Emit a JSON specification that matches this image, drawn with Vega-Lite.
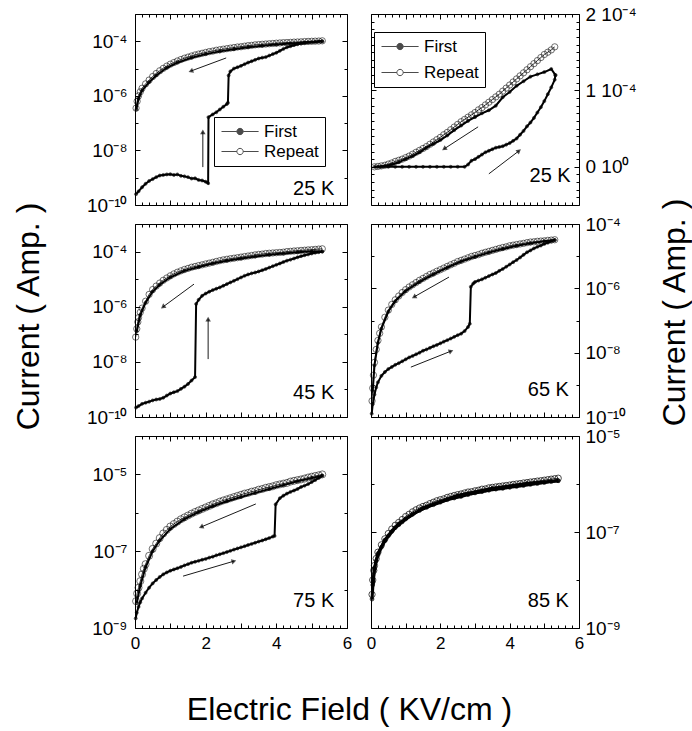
{
  "$schema": "https://vega.github.io/schema/vega-lite/v6.json",
  "background": "white",
  "padding": {"left": 11, "top": 4, "right": 4, "bottom": 4},
  "config": {
    "view": {"stroke": "black", "strokeWidth": 1},
    "font": "Liberation Sans",
    "axis": {"domain": false, "grid": false, "tickColor": "black", "tickWidth": 1, "labelColor": "black", "labelFont": "Liberation Sans", "labelFontSize": 19, "labelFlush": false, "labelOverlap": false, "titleFont": "Liberation Sans", "titleFontWeight": "normal", "titleColor": "black", "titleFontSize": 32},
    "legend": {"labelFont": "Liberation Sans", "labelFontSize": 17, "labelColor": "black"}
  },
  "datasets": {
    "tl": [
      {"s":"Repeat","E":0.03,"I":3.55e-7},{"s":"Repeat","E":0.06,"I":6.3e-7},{"s":"Repeat","E":0.1,"I":1.0e-6},{"s":"Repeat","E":0.15,"I":1.41e-6},{"s":"Repeat","E":0.2,"I":1.9e-6},{"s":"Repeat","E":0.3,"I":2.75e-6},{"s":"Repeat","E":0.4,"I":3.8e-6},{"s":"Repeat","E":0.5,"I":5.1e-6},{"s":"Repeat","E":0.6,"I":6.6e-6},{"s":"Repeat","E":0.7,"I":8.3e-6},{"s":"Repeat","E":0.8,"I":1.02e-5},{"s":"Repeat","E":0.9,"I":1.23e-5},{"s":"Repeat","E":1.0,"I":1.45e-5},{"s":"Repeat","E":1.1,"I":1.66e-5},{"s":"Repeat","E":1.2,"I":1.9e-5},{"s":"Repeat","E":1.3,"I":2.14e-5},{"s":"Repeat","E":1.4,"I":2.4e-5},{"s":"Repeat","E":1.5,"I":2.63e-5},{"s":"Repeat","E":1.6,"I":2.88e-5},{"s":"Repeat","E":1.7,"I":3.16e-5},{"s":"Repeat","E":1.8,"I":3.39e-5},{"s":"Repeat","E":1.9,"I":3.63e-5},{"s":"Repeat","E":2.0,"I":3.89e-5},{"s":"Repeat","E":2.1,"I":4.17e-5},{"s":"Repeat","E":2.2,"I":4.37e-5},{"s":"Repeat","E":2.3,"I":4.68e-5},{"s":"Repeat","E":2.4,"I":4.9e-5},{"s":"Repeat","E":2.5,"I":5.13e-5},{"s":"Repeat","E":2.6,"I":5.37e-5},{"s":"Repeat","E":2.7,"I":5.62e-5},{"s":"Repeat","E":2.8,"I":5.89e-5},{"s":"Repeat","E":2.9,"I":6.17e-5},{"s":"Repeat","E":3.0,"I":6.31e-5},{"s":"Repeat","E":3.1,"I":6.61e-5},{"s":"Repeat","E":3.2,"I":6.92e-5},{"s":"Repeat","E":3.3,"I":7.08e-5},{"s":"Repeat","E":3.4,"I":7.41e-5},{"s":"Repeat","E":3.5,"I":7.59e-5},{"s":"Repeat","E":3.6,"I":7.76e-5},{"s":"Repeat","E":3.7,"I":7.94e-5},{"s":"Repeat","E":3.8,"I":8.13e-5},{"s":"Repeat","E":3.9,"I":8.32e-5},{"s":"Repeat","E":4.0,"I":8.51e-5},{"s":"Repeat","E":4.1,"I":8.71e-5},{"s":"Repeat","E":4.2,"I":8.91e-5},{"s":"Repeat","E":4.3,"I":9.0e-5},{"s":"Repeat","E":4.4,"I":9.12e-5},{"s":"Repeat","E":4.5,"I":9.33e-5},{"s":"Repeat","E":4.6,"I":9.44e-5},{"s":"Repeat","E":4.7,"I":9.55e-5},{"s":"Repeat","E":4.8,"I":9.77e-5},{"s":"Repeat","E":4.9,"I":9.89e-5},{"s":"Repeat","E":5.0,"I":1.0e-4},{"s":"Repeat","E":5.1,"I":1.01e-4},{"s":"Repeat","E":5.2,"I":1.02e-4},{"s":"Repeat","E":5.3,"I":1.04e-4},
      {"s":"First","g":"up","E":0.03,"I":2.5e-10},{"s":"First","g":"up","E":0.1,"I":3.16e-10},{"s":"First","g":"up","E":0.2,"I":4.47e-10},{"s":"First","g":"up","E":0.3,"I":6.0e-10},{"s":"First","g":"up","E":0.4,"I":7.6e-10},{"s":"First","g":"up","E":0.5,"I":8.9e-10},{"s":"First","g":"up","E":0.6,"I":1.05e-9},{"s":"First","g":"up","E":0.7,"I":1.2e-9},{"s":"First","g":"up","E":0.8,"I":1.26e-9},{"s":"First","g":"up","E":0.9,"I":1.32e-9},{"s":"First","g":"up","E":1.0,"I":1.35e-9},{"s":"First","g":"up","E":1.1,"I":1.26e-9},{"s":"First","g":"up","E":1.2,"I":1.32e-9},{"s":"First","g":"up","E":1.3,"I":1.17e-9},{"s":"First","g":"up","E":1.4,"I":1.12e-9},{"s":"First","g":"up","E":1.5,"I":1.05e-9},{"s":"First","g":"up","E":1.6,"I":9.3e-10},{"s":"First","g":"up","E":1.7,"I":9.5e-10},{"s":"First","g":"up","E":1.8,"I":8.3e-10},{"s":"First","g":"up","E":1.9,"I":7.9e-10},{"s":"First","g":"up","E":2.0,"I":7.1e-10},{"s":"First","g":"up","E":2.07,"I":6.3e-10},{"s":"First","g":"up","E":2.08,"I":1.66e-7},{"s":"First","g":"up","E":2.2,"I":2.09e-7},{"s":"First","g":"up","E":2.3,"I":2.5e-7},{"s":"First","g":"up","E":2.4,"I":3.16e-7},{"s":"First","g":"up","E":2.5,"I":4.0e-7},{"s":"First","g":"up","E":2.6,"I":5.0e-7},{"s":"First","g":"up","E":2.63,"I":5.6e-7},{"s":"First","g":"up","E":2.65,"I":5.6e-6},{"s":"First","g":"up","E":2.7,"I":7.9e-6},{"s":"First","g":"up","E":2.8,"I":1.0e-5},{"s":"First","g":"up","E":2.9,"I":1.12e-5},{"s":"First","g":"up","E":3.0,"I":1.26e-5},{"s":"First","g":"up","E":3.1,"I":1.45e-5},{"s":"First","g":"up","E":3.2,"I":1.66e-5},{"s":"First","g":"up","E":3.3,"I":1.86e-5},{"s":"First","g":"up","E":3.4,"I":2.09e-5},{"s":"First","g":"up","E":3.5,"I":2.34e-5},{"s":"First","g":"up","E":3.6,"I":2.51e-5},{"s":"First","g":"up","E":3.7,"I":2.63e-5},{"s":"First","g":"up","E":3.8,"I":3.0e-5},{"s":"First","g":"up","E":3.9,"I":3.39e-5},{"s":"First","g":"up","E":4.0,"I":3.8e-5},{"s":"First","g":"up","E":4.1,"I":4.47e-5},{"s":"First","g":"up","E":4.2,"I":5.25e-5},{"s":"First","g":"up","E":4.3,"I":6.0e-5},{"s":"First","g":"up","E":4.4,"I":6.6e-5},{"s":"First","g":"up","E":4.5,"I":7.2e-5},{"s":"First","g":"up","E":4.6,"I":7.8e-5},{"s":"First","g":"up","E":4.7,"I":8.3e-5},{"s":"First","g":"up","E":4.8,"I":8.7e-5},{"s":"First","g":"up","E":4.9,"I":9.1e-5},{"s":"First","g":"up","E":5.0,"I":9.3e-5},{"s":"First","g":"up","E":5.1,"I":9.5e-5},{"s":"First","g":"up","E":5.2,"I":9.8e-5},{"s":"First","g":"up","E":5.3,"I":1.0e-4},
      {"s":"First","g":"down","E":5.3,"I":1.0e-4},{"s":"First","g":"down","E":4.8,"I":9.1e-5},{"s":"First","g":"down","E":4.4,"I":8.3e-5},{"s":"First","g":"down","E":4.0,"I":7.6e-5},{"s":"First","g":"down","E":3.6,"I":6.8e-5},{"s":"First","g":"down","E":3.2,"I":6.0e-5},{"s":"First","g":"down","E":2.8,"I":5.1e-5},{"s":"First","g":"down","E":2.4,"I":4.27e-5},{"s":"First","g":"down","E":2.0,"I":3.39e-5},{"s":"First","g":"down","E":1.6,"I":2.5e-5},{"s":"First","g":"down","E":1.2,"I":1.66e-5},{"s":"First","g":"down","E":0.9,"I":1.07e-5},{"s":"First","g":"down","E":0.6,"I":5.6e-6},{"s":"First","g":"down","E":0.4,"I":3.16e-6},{"s":"First","g":"down","E":0.2,"I":1.58e-6},{"s":"First","g":"down","E":0.1,"I":7.9e-7},{"s":"First","g":"down","E":0.04,"I":3.16e-7},
      {"s":"arrow","dir":"down","E":2.58,"I":2.45e-5,"E2":1.58,"I2":8.1e-6},
      {"s":"arrow","dir":"up","E":1.92,"I":2.45e-9,"E2":1.92,"I2":4.8e-8},
      {"s":"label","t":"25 K","E":5.64,"I":2.3e-10}
    ],
    "tr": [
      {"s":"Repeat","E":0.1,"I":0},{"s":"Repeat","E":0.2,"I":5e-7},{"s":"Repeat","E":0.3,"I":1.2e-6},{"s":"Repeat","E":0.4,"I":2.0e-6},{"s":"Repeat","E":0.5,"I":3.5e-6},{"s":"Repeat","E":0.6,"I":5.0e-6},{"s":"Repeat","E":0.7,"I":7.0e-6},{"s":"Repeat","E":0.8,"I":8.5e-6},{"s":"Repeat","E":0.9,"I":1.0e-5},{"s":"Repeat","E":1.0,"I":1.2e-5},{"s":"Repeat","E":1.1,"I":1.4e-5},{"s":"Repeat","E":1.2,"I":1.65e-5},{"s":"Repeat","E":1.3,"I":1.9e-5},{"s":"Repeat","E":1.4,"I":2.15e-5},{"s":"Repeat","E":1.5,"I":2.4e-5},{"s":"Repeat","E":1.6,"I":2.65e-5},{"s":"Repeat","E":1.7,"I":2.95e-5},{"s":"Repeat","E":1.8,"I":3.25e-5},{"s":"Repeat","E":1.9,"I":3.55e-5},{"s":"Repeat","E":2.0,"I":3.85e-5},{"s":"Repeat","E":2.1,"I":4.2e-5},{"s":"Repeat","E":2.2,"I":4.5e-5},{"s":"Repeat","E":2.3,"I":4.85e-5},{"s":"Repeat","E":2.4,"I":5.2e-5},{"s":"Repeat","E":2.5,"I":5.55e-5},{"s":"Repeat","E":2.6,"I":5.9e-5},{"s":"Repeat","E":2.7,"I":6.2e-5},{"s":"Repeat","E":2.8,"I":6.5e-5},{"s":"Repeat","E":2.9,"I":6.8e-5},{"s":"Repeat","E":3.0,"I":7.1e-5},{"s":"Repeat","E":3.1,"I":7.45e-5},{"s":"Repeat","E":3.2,"I":7.75e-5},{"s":"Repeat","E":3.3,"I":8.1e-5},{"s":"Repeat","E":3.4,"I":8.45e-5},{"s":"Repeat","E":3.5,"I":8.8e-5},{"s":"Repeat","E":3.6,"I":9.15e-5},{"s":"Repeat","E":3.7,"I":9.5e-5},{"s":"Repeat","E":3.8,"I":9.9e-5},{"s":"Repeat","E":3.9,"I":1.03e-4},{"s":"Repeat","E":4.0,"I":1.07e-4},{"s":"Repeat","E":4.1,"I":1.11e-4},{"s":"Repeat","E":4.2,"I":1.15e-4},{"s":"Repeat","E":4.3,"I":1.19e-4},{"s":"Repeat","E":4.4,"I":1.23e-4},{"s":"Repeat","E":4.5,"I":1.27e-4},{"s":"Repeat","E":4.6,"I":1.31e-4},{"s":"Repeat","E":4.7,"I":1.35e-4},{"s":"Repeat","E":4.8,"I":1.39e-4},{"s":"Repeat","E":4.9,"I":1.43e-4},{"s":"Repeat","E":5.0,"I":1.47e-4},{"s":"Repeat","E":5.1,"I":1.5e-4},{"s":"Repeat","E":5.2,"I":1.53e-4},{"s":"Repeat","E":5.3,"I":1.57e-4},
      {"s":"First","g":"up","E":0.1,"I":0},{"s":"First","g":"up","E":0.3,"I":0},{"s":"First","g":"up","E":0.5,"I":0},{"s":"First","g":"up","E":0.7,"I":0},{"s":"First","g":"up","E":0.9,"I":0},{"s":"First","g":"up","E":1.1,"I":0},{"s":"First","g":"up","E":1.3,"I":0},{"s":"First","g":"up","E":1.5,"I":0},{"s":"First","g":"up","E":1.7,"I":0},{"s":"First","g":"up","E":1.9,"I":0},{"s":"First","g":"up","E":2.1,"I":0},{"s":"First","g":"up","E":2.3,"I":0},{"s":"First","g":"up","E":2.5,"I":0},{"s":"First","g":"up","E":2.7,"I":0},{"s":"First","g":"up","E":2.8,"I":3e-6},{"s":"First","g":"up","E":2.9,"I":8e-6},{"s":"First","g":"up","E":3.0,"I":1.0e-5},{"s":"First","g":"up","E":3.1,"I":1.3e-5},{"s":"First","g":"up","E":3.2,"I":1.6e-5},{"s":"First","g":"up","E":3.3,"I":1.9e-5},{"s":"First","g":"up","E":3.4,"I":2.1e-5},{"s":"First","g":"up","E":3.5,"I":2.3e-5},{"s":"First","g":"up","E":3.6,"I":2.5e-5},{"s":"First","g":"up","E":3.7,"I":2.6e-5},{"s":"First","g":"up","E":3.8,"I":2.7e-5},{"s":"First","g":"up","E":3.9,"I":2.9e-5},{"s":"First","g":"up","E":4.0,"I":3.1e-5},{"s":"First","g":"up","E":4.1,"I":3.4e-5},{"s":"First","g":"up","E":4.2,"I":3.7e-5},{"s":"First","g":"up","E":4.3,"I":4.2e-5},{"s":"First","g":"up","E":4.4,"I":4.7e-5},{"s":"First","g":"up","E":4.5,"I":5.3e-5},{"s":"First","g":"up","E":4.6,"I":5.8e-5},{"s":"First","g":"up","E":4.7,"I":6.4e-5},{"s":"First","g":"up","E":4.8,"I":7.1e-5},{"s":"First","g":"up","E":4.9,"I":7.8e-5},{"s":"First","g":"up","E":5.0,"I":8.6e-5},{"s":"First","g":"up","E":5.1,"I":9.5e-5},{"s":"First","g":"up","E":5.2,"I":1.04e-4},{"s":"First","g":"up","E":5.3,"I":1.14e-4},{"s":"First","g":"up","E":5.32,"I":1.2e-4},
      {"s":"First","g":"down","E":5.32,"I":1.2e-4},{"s":"First","g":"down","E":5.2,"I":1.28e-4},{"s":"First","g":"down","E":5.0,"I":1.24e-4},{"s":"First","g":"down","E":4.8,"I":1.21e-4},{"s":"First","g":"down","E":4.6,"I":1.18e-4},{"s":"First","g":"down","E":4.4,"I":1.12e-4},{"s":"First","g":"down","E":4.2,"I":1.06e-4},{"s":"First","g":"down","E":4.0,"I":9.8e-5},{"s":"First","g":"down","E":3.8,"I":9.1e-5},{"s":"First","g":"down","E":3.6,"I":8.0e-5},{"s":"First","g":"down","E":3.4,"I":7.4e-5},{"s":"First","g":"down","E":3.2,"I":7.0e-5},{"s":"First","g":"down","E":3.0,"I":6.5e-5},{"s":"First","g":"down","E":2.8,"I":6.0e-5},{"s":"First","g":"down","E":2.6,"I":5.4e-5},{"s":"First","g":"down","E":2.4,"I":4.8e-5},{"s":"First","g":"down","E":2.2,"I":4.1e-5},{"s":"First","g":"down","E":2.0,"I":3.5e-5},{"s":"First","g":"down","E":1.8,"I":3.0e-5},{"s":"First","g":"down","E":1.6,"I":2.5e-5},{"s":"First","g":"down","E":1.4,"I":1.9e-5},{"s":"First","g":"down","E":1.2,"I":1.4e-5},{"s":"First","g":"down","E":1.0,"I":1.0e-5},{"s":"First","g":"down","E":0.8,"I":6e-6},{"s":"First","g":"down","E":0.6,"I":3e-6},{"s":"First","g":"down","E":0.4,"I":1e-6},{"s":"First","g":"down","E":0.2,"I":0},
      {"s":"arrow","dir":"down","E":3.09,"I":5.23e-5,"E2":2.11,"I2":2.35e-5},
      {"s":"arrow","dir":"up","E":3.4,"I":-9.2e-6,"E2":4.27,"I2":2.09e-5},
      {"s":"label","t":"25 K","E":5.76,"I":-1.96e-5}
    ],
    "ml": [
      {"s":"Repeat","E":0.02,"I":7.9e-8},{"s":"Repeat","E":0.05,"I":1.58e-7},{"s":"Repeat","E":0.08,"I":2.8e-7},{"s":"Repeat","E":0.1,"I":4.0e-7},{"s":"Repeat","E":0.15,"I":6.3e-7},{"s":"Repeat","E":0.2,"I":8.9e-7},{"s":"Repeat","E":0.3,"I":1.58e-6},{"s":"Repeat","E":0.4,"I":2.8e-6},{"s":"Repeat","E":0.5,"I":4.2e-6},{"s":"Repeat","E":0.6,"I":5.6e-6},{"s":"Repeat","E":0.7,"I":7.2e-6},{"s":"Repeat","E":0.8,"I":9.1e-6},{"s":"Repeat","E":0.9,"I":1.1e-5},{"s":"Repeat","E":1.0,"I":1.32e-5},{"s":"Repeat","E":1.1,"I":1.55e-5},{"s":"Repeat","E":1.2,"I":1.78e-5},{"s":"Repeat","E":1.3,"I":2.0e-5},{"s":"Repeat","E":1.4,"I":2.24e-5},{"s":"Repeat","E":1.5,"I":2.45e-5},{"s":"Repeat","E":1.6,"I":2.7e-5},{"s":"Repeat","E":1.7,"I":2.88e-5},{"s":"Repeat","E":1.8,"I":3.1e-5},{"s":"Repeat","E":1.9,"I":3.3e-5},{"s":"Repeat","E":2.0,"I":3.55e-5},{"s":"Repeat","E":2.1,"I":3.8e-5},{"s":"Repeat","E":2.2,"I":4.07e-5},{"s":"Repeat","E":2.3,"I":4.37e-5},{"s":"Repeat","E":2.4,"I":4.68e-5},{"s":"Repeat","E":2.5,"I":5.0e-5},{"s":"Repeat","E":2.6,"I":5.25e-5},{"s":"Repeat","E":2.7,"I":5.5e-5},{"s":"Repeat","E":2.8,"I":5.75e-5},{"s":"Repeat","E":2.9,"I":6.0e-5},{"s":"Repeat","E":3.0,"I":6.3e-5},{"s":"Repeat","E":3.1,"I":6.6e-5},{"s":"Repeat","E":3.2,"I":6.9e-5},{"s":"Repeat","E":3.3,"I":7.2e-5},{"s":"Repeat","E":3.4,"I":7.6e-5},{"s":"Repeat","E":3.5,"I":7.9e-5},{"s":"Repeat","E":3.6,"I":8.1e-5},{"s":"Repeat","E":3.7,"I":8.5e-5},{"s":"Repeat","E":3.8,"I":8.7e-5},{"s":"Repeat","E":3.9,"I":8.9e-5},{"s":"Repeat","E":4.0,"I":9.1e-5},{"s":"Repeat","E":4.1,"I":9.3e-5},{"s":"Repeat","E":4.2,"I":9.5e-5},{"s":"Repeat","E":4.3,"I":1.0e-4},{"s":"Repeat","E":4.4,"I":1.02e-4},{"s":"Repeat","E":4.5,"I":1.05e-4},{"s":"Repeat","E":4.6,"I":1.07e-4},{"s":"Repeat","E":4.7,"I":1.1e-4},{"s":"Repeat","E":4.8,"I":1.12e-4},{"s":"Repeat","E":4.9,"I":1.15e-4},{"s":"Repeat","E":5.0,"I":1.17e-4},{"s":"Repeat","E":5.1,"I":1.2e-4},{"s":"Repeat","E":5.2,"I":1.23e-4},{"s":"Repeat","E":5.3,"I":1.26e-4},
      {"s":"First","g":"up","E":0.03,"I":2.2e-10},{"s":"First","g":"up","E":0.1,"I":2.5e-10},{"s":"First","g":"up","E":0.2,"I":3.0e-10},{"s":"First","g":"up","E":0.3,"I":3.3e-10},{"s":"First","g":"up","E":0.4,"I":3.6e-10},{"s":"First","g":"up","E":0.5,"I":4.0e-10},{"s":"First","g":"up","E":0.6,"I":4.3e-10},{"s":"First","g":"up","E":0.7,"I":4.5e-10},{"s":"First","g":"up","E":0.8,"I":5.0e-10},{"s":"First","g":"up","E":0.9,"I":6.0e-10},{"s":"First","g":"up","E":1.0,"I":7.1e-10},{"s":"First","g":"up","E":1.1,"I":7.9e-10},{"s":"First","g":"up","E":1.2,"I":8.7e-10},{"s":"First","g":"up","E":1.3,"I":1.05e-9},{"s":"First","g":"up","E":1.4,"I":1.26e-9},{"s":"First","g":"up","E":1.5,"I":1.58e-9},{"s":"First","g":"up","E":1.6,"I":2.1e-9},{"s":"First","g":"up","E":1.7,"I":2.8e-9},{"s":"First","g":"up","E":1.73,"I":1.26e-6},{"s":"First","g":"up","E":1.8,"I":1.78e-6},{"s":"First","g":"up","E":1.9,"I":2.5e-6},{"s":"First","g":"up","E":2.0,"I":3.0e-6},{"s":"First","g":"up","E":2.1,"I":3.5e-6},{"s":"First","g":"up","E":2.2,"I":4.0e-6},{"s":"First","g":"up","E":2.3,"I":4.5e-6},{"s":"First","g":"up","E":2.4,"I":5.0e-6},{"s":"First","g":"up","E":2.5,"I":5.75e-6},{"s":"First","g":"up","E":2.6,"I":6.6e-6},{"s":"First","g":"up","E":2.7,"I":7.6e-6},{"s":"First","g":"up","E":2.8,"I":8.7e-6},{"s":"First","g":"up","E":2.9,"I":1.0e-5},{"s":"First","g":"up","E":3.0,"I":1.15e-5},{"s":"First","g":"up","E":3.1,"I":1.32e-5},{"s":"First","g":"up","E":3.2,"I":1.48e-5},{"s":"First","g":"up","E":3.3,"I":1.62e-5},{"s":"First","g":"up","E":3.4,"I":1.74e-5},{"s":"First","g":"up","E":3.5,"I":1.9e-5},{"s":"First","g":"up","E":3.6,"I":2.1e-5},{"s":"First","g":"up","E":3.7,"I":2.34e-5},{"s":"First","g":"up","E":3.8,"I":2.63e-5},{"s":"First","g":"up","E":3.9,"I":2.95e-5},{"s":"First","g":"up","E":4.0,"I":3.3e-5},{"s":"First","g":"up","E":4.1,"I":3.7e-5},{"s":"First","g":"up","E":4.2,"I":4.17e-5},{"s":"First","g":"up","E":4.3,"I":4.68e-5},{"s":"First","g":"up","E":4.4,"I":5.1e-5},{"s":"First","g":"up","E":4.5,"I":5.6e-5},{"s":"First","g":"up","E":4.6,"I":6.2e-5},{"s":"First","g":"up","E":4.7,"I":6.8e-5},{"s":"First","g":"up","E":4.8,"I":7.4e-5},{"s":"First","g":"up","E":4.9,"I":7.9e-5},{"s":"First","g":"up","E":5.0,"I":8.5e-5},{"s":"First","g":"up","E":5.1,"I":9.1e-5},{"s":"First","g":"up","E":5.2,"I":9.5e-5},{"s":"First","g":"up","E":5.3,"I":1.0e-4},
      {"s":"First","g":"down","E":5.3,"I":1.0e-4},{"s":"First","g":"down","E":5.0,"I":1.02e-4},{"s":"First","g":"down","E":4.6,"I":9.5e-5},{"s":"First","g":"down","E":4.2,"I":8.5e-5},{"s":"First","g":"down","E":3.8,"I":7.6e-5},{"s":"First","g":"down","E":3.4,"I":6.6e-5},{"s":"First","g":"down","E":3.0,"I":5.6e-5},{"s":"First","g":"down","E":2.6,"I":4.68e-5},{"s":"First","g":"down","E":2.2,"I":3.7e-5},{"s":"First","g":"down","E":1.8,"I":2.75e-5},{"s":"First","g":"down","E":1.4,"I":2.0e-5},{"s":"First","g":"down","E":1.0,"I":1.17e-5},{"s":"First","g":"down","E":0.7,"I":6.3e-6},{"s":"First","g":"down","E":0.5,"I":3.55e-6},{"s":"First","g":"down","E":0.3,"I":1.41e-6},{"s":"First","g":"down","E":0.15,"I":5.0e-7},{"s":"First","g":"down","E":0.05,"I":1.26e-7},
      {"s":"arrow","dir":"down","E":1.67,"I":6.6e-6,"E2":0.79,"I2":9.8e-7},
      {"s":"arrow","dir":"up","E":2.07,"I":1.26e-8,"E2":2.07,"I2":3.55e-7},
      {"s":"label","t":"45 K","E":5.64,"I":4.5e-10}
    ],
    "mr": [
      {"s":"Repeat","E":0.03,"I":3.16e-10},{"s":"Repeat","E":0.05,"I":7.9e-10},{"s":"Repeat","E":0.07,"I":2.0e-9},{"s":"Repeat","E":0.1,"I":5.0e-9},{"s":"Repeat","E":0.15,"I":1.26e-8},{"s":"Repeat","E":0.2,"I":2.4e-8},{"s":"Repeat","E":0.25,"I":4.0e-8},{"s":"Repeat","E":0.3,"I":6.3e-8},{"s":"Repeat","E":0.4,"I":1.26e-7},{"s":"Repeat","E":0.5,"I":2.1e-7},{"s":"Repeat","E":0.6,"I":3.16e-7},{"s":"Repeat","E":0.7,"I":4.4e-7},{"s":"Repeat","E":0.8,"I":5.75e-7},{"s":"Repeat","E":0.9,"I":7.4e-7},{"s":"Repeat","E":1.0,"I":9.1e-7},{"s":"Repeat","E":1.1,"I":1.1e-6},{"s":"Repeat","E":1.2,"I":1.29e-6},{"s":"Repeat","E":1.3,"I":1.51e-6},{"s":"Repeat","E":1.4,"I":1.78e-6},{"s":"Repeat","E":1.5,"I":2.04e-6},{"s":"Repeat","E":1.6,"I":2.34e-6},{"s":"Repeat","E":1.7,"I":2.7e-6},{"s":"Repeat","E":1.8,"I":3.0e-6},{"s":"Repeat","E":1.9,"I":3.4e-6},{"s":"Repeat","E":2.0,"I":3.8e-6},{"s":"Repeat","E":2.1,"I":4.27e-6},{"s":"Repeat","E":2.2,"I":4.8e-6},{"s":"Repeat","E":2.3,"I":5.4e-6},{"s":"Repeat","E":2.4,"I":6.0e-6},{"s":"Repeat","E":2.5,"I":6.8e-6},{"s":"Repeat","E":2.6,"I":7.4e-6},{"s":"Repeat","E":2.7,"I":8.1e-6},{"s":"Repeat","E":2.8,"I":8.9e-6},{"s":"Repeat","E":2.9,"I":9.8e-6},{"s":"Repeat","E":3.0,"I":1.05e-5},{"s":"Repeat","E":3.1,"I":1.12e-5},{"s":"Repeat","E":3.2,"I":1.23e-5},{"s":"Repeat","E":3.3,"I":1.32e-5},{"s":"Repeat","E":3.4,"I":1.41e-5},{"s":"Repeat","E":3.5,"I":1.51e-5},{"s":"Repeat","E":3.6,"I":1.62e-5},{"s":"Repeat","E":3.7,"I":1.74e-5},{"s":"Repeat","E":3.8,"I":1.86e-5},{"s":"Repeat","E":3.9,"I":1.95e-5},{"s":"Repeat","E":4.0,"I":2.1e-5},{"s":"Repeat","E":4.1,"I":2.2e-5},{"s":"Repeat","E":4.2,"I":2.3e-5},{"s":"Repeat","E":4.3,"I":2.4e-5},{"s":"Repeat","E":4.4,"I":2.5e-5},{"s":"Repeat","E":4.5,"I":2.63e-5},{"s":"Repeat","E":4.6,"I":2.75e-5},{"s":"Repeat","E":4.7,"I":2.8e-5},{"s":"Repeat","E":4.8,"I":2.9e-5},{"s":"Repeat","E":4.9,"I":2.95e-5},{"s":"Repeat","E":5.0,"I":3.0e-5},{"s":"Repeat","E":5.1,"I":3.1e-5},{"s":"Repeat","E":5.2,"I":3.16e-5},{"s":"Repeat","E":5.3,"I":3.24e-5},
      {"s":"First","g":"up","E":0.02,"I":1.26e-10},{"s":"First","g":"up","E":0.05,"I":2.5e-10},{"s":"First","g":"up","E":0.1,"I":5.0e-10},{"s":"First","g":"up","E":0.15,"I":8.3e-10},{"s":"First","g":"up","E":0.2,"I":1.2e-9},{"s":"First","g":"up","E":0.3,"I":1.9e-9},{"s":"First","g":"up","E":0.4,"I":2.5e-9},{"s":"First","g":"up","E":0.5,"I":3.1e-9},{"s":"First","g":"up","E":0.6,"I":3.6e-9},{"s":"First","g":"up","E":0.7,"I":4.2e-9},{"s":"First","g":"up","E":0.8,"I":4.7e-9},{"s":"First","g":"up","E":0.9,"I":5.4e-9},{"s":"First","g":"up","E":1.0,"I":6.2e-9},{"s":"First","g":"up","E":1.1,"I":7.1e-9},{"s":"First","g":"up","E":1.2,"I":7.9e-9},{"s":"First","g":"up","E":1.3,"I":8.9e-9},{"s":"First","g":"up","E":1.4,"I":1.0e-8},{"s":"First","g":"up","E":1.5,"I":1.15e-8},{"s":"First","g":"up","E":1.6,"I":1.26e-8},{"s":"First","g":"up","E":1.7,"I":1.41e-8},{"s":"First","g":"up","E":1.8,"I":1.58e-8},{"s":"First","g":"up","E":1.9,"I":1.74e-8},{"s":"First","g":"up","E":2.0,"I":1.95e-8},{"s":"First","g":"up","E":2.1,"I":2.2e-8},{"s":"First","g":"up","E":2.2,"I":2.45e-8},{"s":"First","g":"up","E":2.3,"I":2.75e-8},{"s":"First","g":"up","E":2.4,"I":3.1e-8},{"s":"First","g":"up","E":2.5,"I":3.5e-8},{"s":"First","g":"up","E":2.6,"I":3.9e-8},{"s":"First","g":"up","E":2.7,"I":4.7e-8},{"s":"First","g":"up","E":2.8,"I":6.3e-8},{"s":"First","g":"up","E":2.85,"I":7.9e-8},{"s":"First","g":"up","E":2.88,"I":1.12e-6},{"s":"First","g":"up","E":2.95,"I":1.41e-6},{"s":"First","g":"up","E":3.0,"I":1.58e-6},{"s":"First","g":"up","E":3.1,"I":1.74e-6},{"s":"First","g":"up","E":3.2,"I":1.9e-6},{"s":"First","g":"up","E":3.3,"I":2.14e-6},{"s":"First","g":"up","E":3.4,"I":2.4e-6},{"s":"First","g":"up","E":3.5,"I":2.7e-6},{"s":"First","g":"up","E":3.6,"I":3.0e-6},{"s":"First","g":"up","E":3.7,"I":3.5e-6},{"s":"First","g":"up","E":3.8,"I":4.0e-6},{"s":"First","g":"up","E":3.9,"I":4.7e-6},{"s":"First","g":"up","E":4.0,"I":5.5e-6},{"s":"First","g":"up","E":4.1,"I":6.5e-6},{"s":"First","g":"up","E":4.2,"I":7.6e-6},{"s":"First","g":"up","E":4.3,"I":9.1e-6},{"s":"First","g":"up","E":4.4,"I":1.1e-5},{"s":"First","g":"up","E":4.5,"I":1.32e-5},{"s":"First","g":"up","E":4.6,"I":1.51e-5},{"s":"First","g":"up","E":4.7,"I":1.74e-5},{"s":"First","g":"up","E":4.8,"I":1.95e-5},{"s":"First","g":"up","E":4.9,"I":2.14e-5},{"s":"First","g":"up","E":5.0,"I":2.4e-5},{"s":"First","g":"up","E":5.1,"I":2.63e-5},{"s":"First","g":"up","E":5.2,"I":2.9e-5},{"s":"First","g":"up","E":5.3,"I":3.16e-5},
      {"s":"First","g":"down","E":5.3,"I":3.16e-5},{"s":"First","g":"down","E":5.0,"I":2.9e-5},{"s":"First","g":"down","E":4.6,"I":2.5e-5},{"s":"First","g":"down","E":4.2,"I":2.1e-5},{"s":"First","g":"down","E":3.8,"I":1.66e-5},{"s":"First","g":"down","E":3.4,"I":1.29e-5},{"s":"First","g":"down","E":3.0,"I":9.5e-6},{"s":"First","g":"down","E":2.6,"I":6.8e-6},{"s":"First","g":"down","E":2.2,"I":4.4e-6},{"s":"First","g":"down","E":1.8,"I":2.7e-6},{"s":"First","g":"down","E":1.4,"I":1.58e-6},{"s":"First","g":"down","E":1.0,"I":8.3e-7},{"s":"First","g":"down","E":0.7,"I":4.0e-7},{"s":"First","g":"down","E":0.5,"I":1.9e-7},{"s":"First","g":"down","E":0.3,"I":5.6e-8},{"s":"First","g":"down","E":0.2,"I":2.0e-8},{"s":"First","g":"down","E":0.1,"I":4.0e-9},{"s":"First","g":"down","E":0.05,"I":6.3e-10},
      {"s":"arrow","dir":"down","E":2.25,"I":2.24e-6,"E2":1.24,"I2":5.4e-7},
      {"s":"arrow","dir":"up","E":1.15,"I":3.55e-9,"E2":2.31,"I2":1.12e-8},
      {"s":"label","t":"65 K","E":5.71,"I":4.6e-10}
    ],
    "bl": [
      {"s":"Repeat","E":0.03,"I":5.0e-9},{"s":"Repeat","E":0.06,"I":7.9e-9},{"s":"Repeat","E":0.1,"I":1.12e-8},{"s":"Repeat","E":0.15,"I":1.66e-8},{"s":"Repeat","E":0.2,"I":2.5e-8},{"s":"Repeat","E":0.25,"I":3.5e-8},{"s":"Repeat","E":0.3,"I":4.6e-8},{"s":"Repeat","E":0.4,"I":7.6e-8},{"s":"Repeat","E":0.5,"I":1.15e-7},{"s":"Repeat","E":0.6,"I":1.58e-7},{"s":"Repeat","E":0.7,"I":2.2e-7},{"s":"Repeat","E":0.8,"I":2.9e-7},{"s":"Repeat","E":0.9,"I":3.6e-7},{"s":"Repeat","E":1.0,"I":4.4e-7},{"s":"Repeat","E":1.1,"I":5.1e-7},{"s":"Repeat","E":1.2,"I":5.9e-7},{"s":"Repeat","E":1.3,"I":6.8e-7},{"s":"Repeat","E":1.4,"I":7.6e-7},{"s":"Repeat","E":1.5,"I":8.5e-7},{"s":"Repeat","E":1.6,"I":9.5e-7},{"s":"Repeat","E":1.7,"I":1.05e-6},{"s":"Repeat","E":1.8,"I":1.15e-6},{"s":"Repeat","E":1.9,"I":1.26e-6},{"s":"Repeat","E":2.0,"I":1.38e-6},{"s":"Repeat","E":2.1,"I":1.51e-6},{"s":"Repeat","E":2.2,"I":1.66e-6},{"s":"Repeat","E":2.3,"I":1.78e-6},{"s":"Repeat","E":2.4,"I":1.95e-6},{"s":"Repeat","E":2.5,"I":2.1e-6},{"s":"Repeat","E":2.6,"I":2.24e-6},{"s":"Repeat","E":2.7,"I":2.4e-6},{"s":"Repeat","E":2.8,"I":2.57e-6},{"s":"Repeat","E":2.9,"I":2.75e-6},{"s":"Repeat","E":3.0,"I":2.95e-6},{"s":"Repeat","E":3.1,"I":3.16e-6},{"s":"Repeat","E":3.2,"I":3.3e-6},{"s":"Repeat","E":3.3,"I":3.55e-6},{"s":"Repeat","E":3.4,"I":3.7e-6},{"s":"Repeat","E":3.5,"I":4.0e-6},{"s":"Repeat","E":3.6,"I":4.17e-6},{"s":"Repeat","E":3.7,"I":4.47e-6},{"s":"Repeat","E":3.8,"I":4.68e-6},{"s":"Repeat","E":3.9,"I":4.9e-6},{"s":"Repeat","E":4.0,"I":5.25e-6},{"s":"Repeat","E":4.1,"I":5.5e-6},{"s":"Repeat","E":4.2,"I":5.75e-6},{"s":"Repeat","E":4.3,"I":6.0e-6},{"s":"Repeat","E":4.4,"I":6.5e-6},{"s":"Repeat","E":4.5,"I":6.8e-6},{"s":"Repeat","E":4.6,"I":7.1e-6},{"s":"Repeat","E":4.7,"I":7.4e-6},{"s":"Repeat","E":4.8,"I":7.8e-6},{"s":"Repeat","E":4.9,"I":8.3e-6},{"s":"Repeat","E":5.0,"I":8.7e-6},{"s":"Repeat","E":5.1,"I":9.1e-6},{"s":"Repeat","E":5.2,"I":9.5e-6},{"s":"Repeat","E":5.3,"I":1.0e-5},
      {"s":"First","g":"up","E":0.02,"I":1.78e-9},{"s":"First","g":"up","E":0.05,"I":2.5e-9},{"s":"First","g":"up","E":0.1,"I":3.55e-9},{"s":"First","g":"up","E":0.15,"I":4.7e-9},{"s":"First","g":"up","E":0.2,"I":5.9e-9},{"s":"First","g":"up","E":0.3,"I":8.3e-9},{"s":"First","g":"up","E":0.4,"I":1.12e-8},{"s":"First","g":"up","E":0.5,"I":1.45e-8},{"s":"First","g":"up","E":0.6,"I":1.78e-8},{"s":"First","g":"up","E":0.7,"I":2.14e-8},{"s":"First","g":"up","E":0.8,"I":2.5e-8},{"s":"First","g":"up","E":0.9,"I":2.8e-8},{"s":"First","g":"up","E":1.0,"I":3.1e-8},{"s":"First","g":"up","E":1.1,"I":3.35e-8},{"s":"First","g":"up","E":1.2,"I":3.6e-8},{"s":"First","g":"up","E":1.3,"I":3.9e-8},{"s":"First","g":"up","E":1.4,"I":4.27e-8},{"s":"First","g":"up","E":1.5,"I":4.6e-8},{"s":"First","g":"up","E":1.6,"I":5.0e-8},{"s":"First","g":"up","E":1.7,"I":5.3e-8},{"s":"First","g":"up","E":1.8,"I":5.6e-8},{"s":"First","g":"up","E":1.9,"I":6.0e-8},{"s":"First","g":"up","E":2.0,"I":6.3e-8},{"s":"First","g":"up","E":2.1,"I":6.8e-8},{"s":"First","g":"up","E":2.2,"I":7.2e-8},{"s":"First","g":"up","E":2.3,"I":7.8e-8},{"s":"First","g":"up","E":2.4,"I":8.3e-8},{"s":"First","g":"up","E":2.5,"I":8.9e-8},{"s":"First","g":"up","E":2.6,"I":9.5e-8},{"s":"First","g":"up","E":2.7,"I":1.02e-7},{"s":"First","g":"up","E":2.8,"I":1.1e-7},{"s":"First","g":"up","E":2.9,"I":1.18e-7},{"s":"First","g":"up","E":3.0,"I":1.26e-7},{"s":"First","g":"up","E":3.1,"I":1.35e-7},{"s":"First","g":"up","E":3.2,"I":1.45e-7},{"s":"First","g":"up","E":3.3,"I":1.55e-7},{"s":"First","g":"up","E":3.4,"I":1.66e-7},{"s":"First","g":"up","E":3.5,"I":1.78e-7},{"s":"First","g":"up","E":3.6,"I":1.9e-7},{"s":"First","g":"up","E":3.7,"I":2.04e-7},{"s":"First","g":"up","E":3.8,"I":2.2e-7},{"s":"First","g":"up","E":3.9,"I":2.4e-7},{"s":"First","g":"up","E":3.95,"I":2.5e-7},{"s":"First","g":"up","E":3.98,"I":1.66e-6},{"s":"First","g":"up","E":4.1,"I":2.4e-6},{"s":"First","g":"up","E":4.2,"I":2.8e-6},{"s":"First","g":"up","E":4.3,"I":3.16e-6},{"s":"First","g":"up","E":4.4,"I":3.5e-6},{"s":"First","g":"up","E":4.5,"I":3.8e-6},{"s":"First","g":"up","E":4.6,"I":4.17e-6},{"s":"First","g":"up","E":4.7,"I":4.7e-6},{"s":"First","g":"up","E":4.8,"I":5.1e-6},{"s":"First","g":"up","E":4.9,"I":5.6e-6},{"s":"First","g":"up","E":5.0,"I":6.3e-6},{"s":"First","g":"up","E":5.1,"I":7.1e-6},{"s":"First","g":"up","E":5.2,"I":8.1e-6},{"s":"First","g":"up","E":5.3,"I":9.3e-6},
      {"s":"First","g":"down","E":5.3,"I":9.3e-6},{"s":"First","g":"down","E":5.0,"I":8.0e-6},{"s":"First","g":"down","E":4.6,"I":6.6e-6},{"s":"First","g":"down","E":4.2,"I":5.25e-6},{"s":"First","g":"down","E":3.8,"I":4.17e-6},{"s":"First","g":"down","E":3.4,"I":3.3e-6},{"s":"First","g":"down","E":3.0,"I":2.57e-6},{"s":"First","g":"down","E":2.6,"I":2.0e-6},{"s":"First","g":"down","E":2.2,"I":1.48e-6},{"s":"First","g":"down","E":1.8,"I":1.05e-6},{"s":"First","g":"down","E":1.4,"I":6.8e-7},{"s":"First","g":"down","E":1.0,"I":3.8e-7},{"s":"First","g":"down","E":0.7,"I":1.9e-7},{"s":"First","g":"down","E":0.5,"I":1.0e-7},{"s":"First","g":"down","E":0.3,"I":3.8e-8},{"s":"First","g":"down","E":0.15,"I":1.26e-8},{"s":"First","g":"down","E":0.05,"I":4.5e-9},
      {"s":"arrow","dir":"down","E":3.42,"I":1.7e-6,"E2":1.87,"I2":4.27e-7},
      {"s":"arrow","dir":"up","E":1.36,"I":2.24e-8,"E2":2.8,"I2":5.5e-8},
      {"s":"label","t":"75 K","E":5.64,"I":3.55e-9}
    ],
    "br": [
      {"s":"Repeat","E":0.03,"I":5.0e-9},{"s":"Repeat","E":0.05,"I":1.0e-8},{"s":"Repeat","E":0.08,"I":1.58e-8},{"s":"Repeat","E":0.1,"I":2.0e-8},{"s":"Repeat","E":0.15,"I":2.8e-8},{"s":"Repeat","E":0.2,"I":3.8e-8},{"s":"Repeat","E":0.3,"I":5.4e-8},{"s":"Repeat","E":0.4,"I":7.2e-8},{"s":"Repeat","E":0.5,"I":9.3e-8},{"s":"Repeat","E":0.6,"I":1.15e-7},{"s":"Repeat","E":0.7,"I":1.38e-7},{"s":"Repeat","E":0.8,"I":1.58e-7},{"s":"Repeat","E":0.9,"I":1.82e-7},{"s":"Repeat","E":1.0,"I":2.1e-7},{"s":"Repeat","E":1.1,"I":2.34e-7},{"s":"Repeat","E":1.2,"I":2.63e-7},{"s":"Repeat","E":1.3,"I":2.9e-7},{"s":"Repeat","E":1.4,"I":3.16e-7},{"s":"Repeat","E":1.5,"I":3.4e-7},{"s":"Repeat","E":1.6,"I":3.6e-7},{"s":"Repeat","E":1.7,"I":3.9e-7},{"s":"Repeat","E":1.8,"I":4.17e-7},{"s":"Repeat","E":1.9,"I":4.47e-7},{"s":"Repeat","E":2.0,"I":4.7e-7},{"s":"Repeat","E":2.1,"I":4.9e-7},{"s":"Repeat","E":2.2,"I":5.25e-7},{"s":"Repeat","E":2.3,"I":5.5e-7},{"s":"Repeat","E":2.4,"I":5.75e-7},{"s":"Repeat","E":2.5,"I":6.0e-7},{"s":"Repeat","E":2.6,"I":6.2e-7},{"s":"Repeat","E":2.7,"I":6.5e-7},{"s":"Repeat","E":2.8,"I":6.8e-7},{"s":"Repeat","E":2.9,"I":6.9e-7},{"s":"Repeat","E":3.0,"I":7.2e-7},{"s":"Repeat","E":3.1,"I":7.4e-7},{"s":"Repeat","E":3.2,"I":7.8e-7},{"s":"Repeat","E":3.3,"I":7.9e-7},{"s":"Repeat","E":3.4,"I":8.3e-7},{"s":"Repeat","E":3.5,"I":8.5e-7},{"s":"Repeat","E":3.6,"I":8.7e-7},{"s":"Repeat","E":3.7,"I":8.9e-7},{"s":"Repeat","E":3.8,"I":9.1e-7},{"s":"Repeat","E":3.9,"I":9.3e-7},{"s":"Repeat","E":4.0,"I":9.5e-7},{"s":"Repeat","E":4.1,"I":9.8e-7},{"s":"Repeat","E":4.2,"I":1.0e-6},{"s":"Repeat","E":4.3,"I":1.02e-6},{"s":"Repeat","E":4.4,"I":1.05e-6},{"s":"Repeat","E":4.5,"I":1.07e-6},{"s":"Repeat","E":4.6,"I":1.1e-6},{"s":"Repeat","E":4.7,"I":1.12e-6},{"s":"Repeat","E":4.8,"I":1.15e-6},{"s":"Repeat","E":4.9,"I":1.17e-6},{"s":"Repeat","E":5.0,"I":1.2e-6},{"s":"Repeat","E":5.1,"I":1.23e-6},{"s":"Repeat","E":5.2,"I":1.26e-6},{"s":"Repeat","E":5.3,"I":1.29e-6},{"s":"Repeat","E":5.4,"I":1.32e-6},
      {"s":"First","g":"up","E":0.03,"I":4.0e-9},{"s":"First","g":"up","E":0.06,"I":8.9e-9},{"s":"First","g":"up","E":0.1,"I":1.66e-8},{"s":"First","g":"up","E":0.15,"I":2.5e-8},{"s":"First","g":"up","E":0.2,"I":3.3e-8},{"s":"First","g":"up","E":0.3,"I":4.8e-8},{"s":"First","g":"up","E":0.4,"I":6.5e-8},{"s":"First","g":"up","E":0.5,"I":8.3e-8},{"s":"First","g":"up","E":0.6,"I":1.02e-7},{"s":"First","g":"up","E":0.7,"I":1.23e-7},{"s":"First","g":"up","E":0.8,"I":1.41e-7},{"s":"First","g":"up","E":0.9,"I":1.62e-7},{"s":"First","g":"up","E":1.0,"I":1.86e-7},{"s":"First","g":"up","E":1.2,"I":2.34e-7},{"s":"First","g":"up","E":1.4,"I":2.8e-7},{"s":"First","g":"up","E":1.6,"I":3.24e-7},{"s":"First","g":"up","E":1.8,"I":3.7e-7},{"s":"First","g":"up","E":2.0,"I":4.17e-7},{"s":"First","g":"up","E":2.2,"I":4.7e-7},{"s":"First","g":"up","E":2.4,"I":5.1e-7},{"s":"First","g":"up","E":2.6,"I":5.5e-7},{"s":"First","g":"up","E":2.8,"I":6.0e-7},{"s":"First","g":"up","E":3.0,"I":6.5e-7},{"s":"First","g":"up","E":3.2,"I":6.9e-7},{"s":"First","g":"up","E":3.4,"I":7.4e-7},{"s":"First","g":"up","E":3.6,"I":7.8e-7},{"s":"First","g":"up","E":3.8,"I":8.1e-7},{"s":"First","g":"up","E":4.0,"I":8.5e-7},{"s":"First","g":"up","E":4.2,"I":8.9e-7},{"s":"First","g":"up","E":4.4,"I":9.3e-7},{"s":"First","g":"up","E":4.6,"I":9.8e-7},{"s":"First","g":"up","E":4.8,"I":1.02e-6},{"s":"First","g":"up","E":5.0,"I":1.07e-6},{"s":"First","g":"up","E":5.2,"I":1.12e-6},{"s":"First","g":"up","E":5.4,"I":1.17e-6},
      {"s":"First","g":"down","E":5.4,"I":1.17e-6},{"s":"First","g":"down","E":4.5,"I":1.02e-6},{"s":"First","g":"down","E":3.5,"I":8.1e-7},{"s":"First","g":"down","E":2.5,"I":5.75e-7},{"s":"First","g":"down","E":1.5,"I":3.16e-7},{"s":"First","g":"down","E":0.8,"I":1.48e-7},{"s":"First","g":"down","E":0.4,"I":6.8e-8},{"s":"First","g":"down","E":0.2,"I":3.55e-8},{"s":"First","g":"down","E":0.1,"I":1.78e-8},{"s":"First","g":"down","E":0.05,"I":7.9e-9},
      {"s":"label","t":"85 K","E":5.71,"I":2.75e-9}
    ]
  },
  "concat": [
    {
      "width": 212, "height": 191,
      "data": {"name": "tl"},
      "resolve": {"axis": {"x": "independent", "y": "independent"}},
      "layer": [
        {"transform": [{"filter": "datum.s === 'Repeat'"}], "mark": {"type": "line", "color": "black", "strokeWidth": 0.8},
         "encoding": {
           "x": {"field": "E", "type": "quantitative", "scale": {"domain": [0, 6], "nice": false, "zero": false}, "axis": {"orient": "bottom", "values": [0,1,2,3,4,5,6], "tickSize": -5, "labels": false, "title": null}},
           "y": {"field": "I", "type": "quantitative", "scale": {"type": "log", "domain": [1e-10, 0.001], "nice": false}, "axis": {"orient": "left", "values": [1e-10,1e-8,1e-6,1e-4], "tickSize": -5, "labelPadding": 13, "labelExpr": "'10⁻' + (round(-log(datum.value)/LN10) == 10 ? '¹⁰' : ['⁰','¹','²','³','⁴','⁵','⁶','⁷','⁸','⁹'][round(-log(datum.value)/LN10)])", "title": null}}}},
        {"transform": [{"filter": "datum.s === 'First'"}], "mark": {"type": "line", "color": "black", "strokeWidth": 2},
         "encoding": {
           "x": {"field": "E", "type": "quantitative", "scale": {"domain": [0, 6], "nice": false, "zero": false}, "axis": {"orient": "top", "values": [0,1,2,3,4,5,6], "tickSize": -5, "labels": false, "title": null}},
           "y": {"field": "I", "type": "quantitative", "scale": {"type": "log", "domain": [1e-10, 0.001], "nice": false}, "axis": {"orient": "right", "values": [1e-10,1e-8,1e-6,1e-4], "tickSize": -5, "labels": false, "title": null}},
           "detail": {"field": "g"}}},
        {"transform": [{"filter": "datum.s === 'First' || datum.s === 'Repeat'"}], "mark": {"type": "point", "filled": true, "stroke": "black", "strokeWidth": 0.8},
         "encoding": {
           "x": {"field": "E", "type": "quantitative", "scale": {"domain": [0, 6], "nice": false, "zero": false}, "axis": {"orient": "bottom", "values": [0.2,0.4,0.6,0.8,1.2,1.4,1.6,1.8,2.2,2.4,2.6,2.8,3.2,3.4,3.6,3.8,4.2,4.4,4.6,4.8,5.2,5.4,5.6,5.8], "tickSize": -3, "labels": false, "title": null}},
           "y": {"field": "I", "type": "quantitative", "scale": {"type": "log", "domain": [1e-10, 0.001], "nice": false}, "axis": {"orient": "left", "values": [1e-9,1e-7,1e-5,0.001], "tickSize": -3, "labels": false, "title": null}},
           "fill": {"field": "s", "type": "nominal", "scale": {"domain": ["First", "Repeat"], "range": ["black", "transparent"]},
                    "legend": {"orient": "none", "legendX": 79, "legendY": 103, "title": null, "strokeColor": "black", "fillColor": "white", "padding": 6, "rowPadding": 2, "labelFontSize": 17, "labelOffset": 27, "symbolType": "M-1,0H1.2M2.1,0H4.3M1.2,0A0.45,0.45,0,1,0,2.1,0A0.45,0.45,0,1,0,1.2,0Z", "symbolSize": 196, "symbolStrokeColor": "black", "symbolStrokeWidth": 1}},
           "size": {"condition": {"test": "datum.s === 'First'", "value": 9}, "value": 40}}},
        {"transform": [{"filter": "datum.s === 'label'"}], "mark": {"type": "text", "align": "right", "baseline": "alphabetic", "fontSize": 20, "font": "Liberation Sans", "color": "black"},
         "encoding": {
           "x": {"field": "E", "type": "quantitative", "scale": {"domain": [0, 6], "nice": false, "zero": false}, "axis": {"orient": "top", "values": [0.2,0.4,0.6,0.8,1.2,1.4,1.6,1.8,2.2,2.4,2.6,2.8,3.2,3.4,3.6,3.8,4.2,4.4,4.6,4.8,5.2,5.4,5.6,5.8], "tickSize": -3, "labels": false, "title": null}},
           "y": {"field": "I", "type": "quantitative", "scale": {"type": "log", "domain": [1e-10, 0.001], "nice": false}, "axis": {"orient": "right", "values": [1e-9,1e-7,1e-5,0.001], "tickSize": -3, "labels": false, "title": null}},
           "text": {"field": "t"}}},
        {"transform": [{"filter": "datum.s === 'arrow'"}], "mark": {"type": "rule", "color": "black", "strokeWidth": 0.9},
         "encoding": {
           "x": {"field": "E", "type": "quantitative", "scale": {"domain": [0, 6], "nice": false, "zero": false}, "axis": null},
           "y": {"field": "I", "type": "quantitative", "scale": {"type": "log", "domain": [1e-10, 0.001], "nice": false}, "axis": null},
           "x2": {"field": "E2"}, "y2": {"field": "I2"}}},
        {"transform": [{"filter": "datum.s === 'arrow' && datum.dir === 'down'"}], "mark": {"type": "point", "shape": "triangle-up", "angle": 250, "filled": true, "color": "black", "size": 30},
         "encoding": {
           "x": {"field": "E2", "type": "quantitative", "scale": {"domain": [0, 6], "nice": false, "zero": false}, "axis": null},
           "y": {"field": "I2", "type": "quantitative", "scale": {"type": "log", "domain": [1e-10, 0.001], "nice": false}, "axis": null}}},
        {"transform": [{"filter": "datum.s === 'arrow' && datum.dir === 'up'"}], "mark": {"type": "point", "shape": "triangle-up", "angle": 0, "filled": true, "color": "black", "size": 30},
         "encoding": {
           "x": {"field": "E2", "type": "quantitative", "scale": {"domain": [0, 6], "nice": false, "zero": false}, "axis": null},
           "y": {"field": "I2", "type": "quantitative", "scale": {"type": "log", "domain": [1e-10, 0.001], "nice": false}, "axis": null}}}
      ]
    },
    {
      "width": 208, "height": 191,
      "data": {"name": "tr"},
      "resolve": {"axis": {"x": "independent", "y": "independent"}},
      "layer": [
        {"transform": [{"filter": "datum.s === 'Repeat'"}], "mark": {"type": "line", "color": "black", "strokeWidth": 0.8},
         "encoding": {
           "x": {"field": "E", "type": "quantitative", "scale": {"domain": [0, 6], "nice": false, "zero": false}, "axis": {"orient": "bottom", "values": [0,1,2,3,4,5,6], "tickSize": -5, "labels": false, "title": null}},
           "y": {"field": "I", "type": "quantitative", "scale": {"domain": [-0.00005, 0.0002], "nice": false, "zero": false}, "axis": {"orient": "right", "values": [0, 0.0001, 0.0002], "tickSize": -5, "labelPadding": 11, "labelExpr": "datum.value === 0 ? '0 10⁰' : (datum.value > 0.00015 ? '2 10⁻⁴' : '1 10⁻⁴')", "title": null}}}},
        {"transform": [{"filter": "datum.s === 'First'"}], "mark": {"type": "line", "color": "black", "strokeWidth": 2},
         "encoding": {
           "x": {"field": "E", "type": "quantitative", "scale": {"domain": [0, 6], "nice": false, "zero": false}, "axis": {"orient": "top", "values": [0,1,2,3,4,5,6], "tickSize": -5, "labels": false, "title": null}},
           "y": {"field": "I", "type": "quantitative", "scale": {"domain": [-0.00005, 0.0002], "nice": false, "zero": false}, "axis": {"orient": "left", "values": [0, 0.0001, 0.0002], "tickSize": -5, "labels": false, "title": null}},
           "detail": {"field": "g"}}},
        {"transform": [{"filter": "datum.s === 'First' || datum.s === 'Repeat'"}], "mark": {"type": "point", "filled": true, "stroke": "black", "strokeWidth": 0.8},
         "encoding": {
           "x": {"field": "E", "type": "quantitative", "scale": {"domain": [0, 6], "nice": false, "zero": false}, "axis": {"orient": "bottom", "values": [0.2,0.4,0.6,0.8,1.2,1.4,1.6,1.8,2.2,2.4,2.6,2.8,3.2,3.4,3.6,3.8,4.2,4.4,4.6,4.8,5.2,5.4,5.6,5.8], "tickSize": -3, "labels": false, "title": null}},
           "y": {"field": "I", "type": "quantitative", "scale": {"domain": [-0.00005, 0.0002], "nice": false, "zero": false}, "axis": {"orient": "right", "values": [-0.00004,-0.00003,-0.00002,-0.00001,0.00001,0.00002,0.00003,0.00004,0.00005,0.00006,0.00007,0.00008,0.00009,0.00011,0.00012,0.00013,0.00014,0.00015,0.00016,0.00017,0.00018,0.00019], "tickSize": -3, "labels": false, "title": null}},
           "fill": {"field": "s", "type": "nominal", "scale": {"domain": ["First", "Repeat"], "range": ["black", "transparent"]},
                    "legend": {"orient": "none", "legendX": 3, "legendY": 18, "title": null, "strokeColor": "black", "fillColor": "white", "padding": 6, "rowPadding": 8, "labelFontSize": 17, "labelOffset": 27, "symbolType": "M-1,0H1.2M2.1,0H4.3M1.2,0A0.45,0.45,0,1,0,2.1,0A0.45,0.45,0,1,0,1.2,0Z", "symbolSize": 196, "symbolStrokeColor": "black", "symbolStrokeWidth": 1}},
           "size": {"condition": {"test": "datum.s === 'First'", "value": 9}, "value": 40}}},
        {"transform": [{"filter": "datum.s === 'label'"}], "mark": {"type": "text", "align": "right", "baseline": "alphabetic", "fontSize": 20, "font": "Liberation Sans", "color": "black"},
         "encoding": {
           "x": {"field": "E", "type": "quantitative", "scale": {"domain": [0, 6], "nice": false, "zero": false}, "axis": {"orient": "top", "values": [0.2,0.4,0.6,0.8,1.2,1.4,1.6,1.8,2.2,2.4,2.6,2.8,3.2,3.4,3.6,3.8,4.2,4.4,4.6,4.8,5.2,5.4,5.6,5.8], "tickSize": -3, "labels": false, "title": null}},
           "y": {"field": "I", "type": "quantitative", "scale": {"domain": [-0.00005, 0.0002], "nice": false, "zero": false}, "axis": {"orient": "left", "values": [-0.00004,-0.00003,-0.00002,-0.00001,0.00001,0.00002,0.00003,0.00004,0.00005,0.00006,0.00007,0.00008,0.00009,0.00011,0.00012,0.00013,0.00014,0.00015,0.00016,0.00017,0.00018,0.00019], "tickSize": -3, "labels": false, "title": null}},
           "text": {"field": "t"}}},
        {"transform": [{"filter": "datum.s === 'arrow'"}], "mark": {"type": "rule", "color": "black", "strokeWidth": 0.9},
         "encoding": {
           "x": {"field": "E", "type": "quantitative", "scale": {"domain": [0, 6], "nice": false, "zero": false}, "axis": null},
           "y": {"field": "I", "type": "quantitative", "scale": {"domain": [-0.00005, 0.0002], "nice": false, "zero": false}, "axis": null},
           "x2": {"field": "E2"}, "y2": {"field": "I2"}}},
        {"transform": [{"filter": "datum.s === 'arrow' && datum.dir === 'down'"}], "mark": {"type": "point", "shape": "triangle-up", "angle": 237, "filled": true, "color": "black", "size": 30},
         "encoding": {
           "x": {"field": "E2", "type": "quantitative", "scale": {"domain": [0, 6], "nice": false, "zero": false}, "axis": null},
           "y": {"field": "I2", "type": "quantitative", "scale": {"domain": [-0.00005, 0.0002], "nice": false, "zero": false}, "axis": null}}},
        {"transform": [{"filter": "datum.s === 'arrow' && datum.dir === 'up'"}], "mark": {"type": "point", "shape": "triangle-up", "angle": 52, "filled": true, "color": "black", "size": 30},
         "encoding": {
           "x": {"field": "E2", "type": "quantitative", "scale": {"domain": [0, 6], "nice": false, "zero": false}, "axis": null},
           "y": {"field": "I2", "type": "quantitative", "scale": {"domain": [-0.00005, 0.0002], "nice": false, "zero": false}, "axis": null}}}
      ]
    },
    {
      "width": 212, "height": 193,
      "data": {"name": "ml"},
      "resolve": {"axis": {"x": "independent", "y": "independent"}},
      "layer": [
        {"transform": [{"filter": "datum.s === 'Repeat'"}], "mark": {"type": "line", "color": "black", "strokeWidth": 0.8},
         "encoding": {
           "x": {"field": "E", "type": "quantitative", "scale": {"domain": [0, 6], "nice": false, "zero": false}, "axis": {"orient": "bottom", "values": [0,1,2,3,4,5,6], "tickSize": -5, "labels": false, "title": null}},
           "y": {"field": "I", "type": "quantitative", "scale": {"type": "log", "domain": [1e-10, 0.001], "nice": false}, "axis": {"orient": "left", "values": [1e-10,1e-8,1e-6,1e-4], "tickSize": -5, "labelPadding": 13, "labelExpr": "'10⁻' + (round(-log(datum.value)/LN10) == 10 ? '¹⁰' : ['⁰','¹','²','³','⁴','⁵','⁶','⁷','⁸','⁹'][round(-log(datum.value)/LN10)])", "title": "Current ( Amp. )", "titleX": -107, "titleY": 92, "titleAngle": 270, "titleBaseline": "middle", "titleAlign": "center"}}}},
        {"transform": [{"filter": "datum.s === 'First'"}], "mark": {"type": "line", "color": "black", "strokeWidth": 2},
         "encoding": {
           "x": {"field": "E", "type": "quantitative", "scale": {"domain": [0, 6], "nice": false, "zero": false}, "axis": {"orient": "top", "values": [0,1,2,3,4,5,6], "tickSize": -5, "labels": false, "title": null}},
           "y": {"field": "I", "type": "quantitative", "scale": {"type": "log", "domain": [1e-10, 0.001], "nice": false}, "axis": {"orient": "right", "values": [1e-10,1e-8,1e-6,1e-4], "tickSize": -5, "labels": false, "title": null}},
           "detail": {"field": "g"}}},
        {"transform": [{"filter": "datum.s === 'First' || datum.s === 'Repeat'"}], "mark": {"type": "point", "filled": true, "stroke": "black", "strokeWidth": 0.8},
         "encoding": {
           "x": {"field": "E", "type": "quantitative", "scale": {"domain": [0, 6], "nice": false, "zero": false}, "axis": {"orient": "bottom", "values": [0.2,0.4,0.6,0.8,1.2,1.4,1.6,1.8,2.2,2.4,2.6,2.8,3.2,3.4,3.6,3.8,4.2,4.4,4.6,4.8,5.2,5.4,5.6,5.8], "tickSize": -3, "labels": false, "title": null}},
           "y": {"field": "I", "type": "quantitative", "scale": {"type": "log", "domain": [1e-10, 0.001], "nice": false}, "axis": {"orient": "left", "values": [1e-9,1e-7,1e-5,0.001], "tickSize": -3, "labels": false, "title": null}},
           "fill": {"field": "s", "type": "nominal", "scale": {"domain": ["First", "Repeat"], "range": ["black", "transparent"]}, "legend": null},
           "size": {"condition": {"test": "datum.s === 'First'", "value": 9}, "value": 40}}},
        {"transform": [{"filter": "datum.s === 'label'"}], "mark": {"type": "text", "align": "right", "baseline": "alphabetic", "fontSize": 20, "font": "Liberation Sans", "color": "black"},
         "encoding": {
           "x": {"field": "E", "type": "quantitative", "scale": {"domain": [0, 6], "nice": false, "zero": false}, "axis": {"orient": "top", "values": [0.2,0.4,0.6,0.8,1.2,1.4,1.6,1.8,2.2,2.4,2.6,2.8,3.2,3.4,3.6,3.8,4.2,4.4,4.6,4.8,5.2,5.4,5.6,5.8], "tickSize": -3, "labels": false, "title": null}},
           "y": {"field": "I", "type": "quantitative", "scale": {"type": "log", "domain": [1e-10, 0.001], "nice": false}, "axis": {"orient": "right", "values": [1e-9,1e-7,1e-5,0.001], "tickSize": -3, "labels": false, "title": null}},
           "text": {"field": "t"}}},
        {"transform": [{"filter": "datum.s === 'arrow'"}], "mark": {"type": "rule", "color": "black", "strokeWidth": 0.9},
         "encoding": {
           "x": {"field": "E", "type": "quantitative", "scale": {"domain": [0, 6], "nice": false, "zero": false}, "axis": null},
           "y": {"field": "I", "type": "quantitative", "scale": {"type": "log", "domain": [1e-10, 0.001], "nice": false}, "axis": null},
           "x2": {"field": "E2"}, "y2": {"field": "I2"}}},
        {"transform": [{"filter": "datum.s === 'arrow' && datum.dir === 'down'"}], "mark": {"type": "point", "shape": "triangle-up", "angle": 233, "filled": true, "color": "black", "size": 30},
         "encoding": {
           "x": {"field": "E2", "type": "quantitative", "scale": {"domain": [0, 6], "nice": false, "zero": false}, "axis": null},
           "y": {"field": "I2", "type": "quantitative", "scale": {"type": "log", "domain": [1e-10, 0.001], "nice": false}, "axis": null}}},
        {"transform": [{"filter": "datum.s === 'arrow' && datum.dir === 'up'"}], "mark": {"type": "point", "shape": "triangle-up", "angle": 0, "filled": true, "color": "black", "size": 30},
         "encoding": {
           "x": {"field": "E2", "type": "quantitative", "scale": {"domain": [0, 6], "nice": false, "zero": false}, "axis": null},
           "y": {"field": "I2", "type": "quantitative", "scale": {"type": "log", "domain": [1e-10, 0.001], "nice": false}, "axis": null}}}
      ]
    },
    {
      "width": 208, "height": 193,
      "data": {"name": "mr"},
      "resolve": {"axis": {"x": "independent", "y": "independent"}},
      "layer": [
        {"transform": [{"filter": "datum.s === 'Repeat'"}], "mark": {"type": "line", "color": "black", "strokeWidth": 0.8},
         "encoding": {
           "x": {"field": "E", "type": "quantitative", "scale": {"domain": [0, 6], "nice": false, "zero": false}, "axis": {"orient": "bottom", "values": [0,1,2,3,4,5,6], "tickSize": -5, "labels": false, "title": null}},
           "y": {"field": "I", "type": "quantitative", "scale": {"type": "log", "domain": [1e-10, 0.0001], "nice": false}, "axis": {"orient": "right", "values": [1e-10,1e-8,1e-6,1e-4], "tickSize": -5, "labelPadding": 11, "labelExpr": "'10⁻' + (round(-log(datum.value)/LN10) == 10 ? '¹⁰' : ['⁰','¹','²','³','⁴','⁵','⁶','⁷','⁸','⁹'][round(-log(datum.value)/LN10)])", "title": "Current ( Amp. )", "titleX": 95, "titleY": 88, "titleAngle": 270, "titleBaseline": "middle", "titleAlign": "center"}}}},
        {"transform": [{"filter": "datum.s === 'First'"}], "mark": {"type": "line", "color": "black", "strokeWidth": 2},
         "encoding": {
           "x": {"field": "E", "type": "quantitative", "scale": {"domain": [0, 6], "nice": false, "zero": false}, "axis": {"orient": "top", "values": [0,1,2,3,4,5,6], "tickSize": -5, "labels": false, "title": null}},
           "y": {"field": "I", "type": "quantitative", "scale": {"type": "log", "domain": [1e-10, 0.0001], "nice": false}, "axis": {"orient": "left", "values": [1e-10,1e-8,1e-6,1e-4], "tickSize": -5, "labels": false, "title": null}},
           "detail": {"field": "g"}}},
        {"transform": [{"filter": "datum.s === 'First' || datum.s === 'Repeat'"}], "mark": {"type": "point", "filled": true, "stroke": "black", "strokeWidth": 0.8},
         "encoding": {
           "x": {"field": "E", "type": "quantitative", "scale": {"domain": [0, 6], "nice": false, "zero": false}, "axis": {"orient": "bottom", "values": [0.2,0.4,0.6,0.8,1.2,1.4,1.6,1.8,2.2,2.4,2.6,2.8,3.2,3.4,3.6,3.8,4.2,4.4,4.6,4.8,5.2,5.4,5.6,5.8], "tickSize": -3, "labels": false, "title": null}},
           "y": {"field": "I", "type": "quantitative", "scale": {"type": "log", "domain": [1e-10, 0.0001], "nice": false}, "axis": {"orient": "right", "values": [1e-9,1e-7,1e-5], "tickSize": -3, "labels": false, "title": null}},
           "fill": {"field": "s", "type": "nominal", "scale": {"domain": ["First", "Repeat"], "range": ["black", "transparent"]}, "legend": null},
           "size": {"condition": {"test": "datum.s === 'First'", "value": 9}, "value": 40}}},
        {"transform": [{"filter": "datum.s === 'label'"}], "mark": {"type": "text", "align": "right", "baseline": "alphabetic", "fontSize": 20, "font": "Liberation Sans", "color": "black"},
         "encoding": {
           "x": {"field": "E", "type": "quantitative", "scale": {"domain": [0, 6], "nice": false, "zero": false}, "axis": {"orient": "top", "values": [0.2,0.4,0.6,0.8,1.2,1.4,1.6,1.8,2.2,2.4,2.6,2.8,3.2,3.4,3.6,3.8,4.2,4.4,4.6,4.8,5.2,5.4,5.6,5.8], "tickSize": -3, "labels": false, "title": null}},
           "y": {"field": "I", "type": "quantitative", "scale": {"type": "log", "domain": [1e-10, 0.0001], "nice": false}, "axis": {"orient": "left", "values": [1e-9,1e-7,1e-5], "tickSize": -3, "labels": false, "title": null}},
           "text": {"field": "t"}}},
        {"transform": [{"filter": "datum.s === 'arrow'"}], "mark": {"type": "rule", "color": "black", "strokeWidth": 0.9},
         "encoding": {
           "x": {"field": "E", "type": "quantitative", "scale": {"domain": [0, 6], "nice": false, "zero": false}, "axis": null},
           "y": {"field": "I", "type": "quantitative", "scale": {"type": "log", "domain": [1e-10, 0.0001], "nice": false}, "axis": null},
           "x2": {"field": "E2"}, "y2": {"field": "I2"}}},
        {"transform": [{"filter": "datum.s === 'arrow' && datum.dir === 'down'"}], "mark": {"type": "point", "shape": "triangle-up", "angle": 240, "filled": true, "color": "black", "size": 30},
         "encoding": {
           "x": {"field": "E2", "type": "quantitative", "scale": {"domain": [0, 6], "nice": false, "zero": false}, "axis": null},
           "y": {"field": "I2", "type": "quantitative", "scale": {"type": "log", "domain": [1e-10, 0.0001], "nice": false}, "axis": null}}},
        {"transform": [{"filter": "datum.s === 'arrow' && datum.dir === 'up'"}], "mark": {"type": "point", "shape": "triangle-up", "angle": 68, "filled": true, "color": "black", "size": 30},
         "encoding": {
           "x": {"field": "E2", "type": "quantitative", "scale": {"domain": [0, 6], "nice": false, "zero": false}, "axis": null},
           "y": {"field": "I2", "type": "quantitative", "scale": {"type": "log", "domain": [1e-10, 0.0001], "nice": false}, "axis": null}}}
      ]
    },
    {
      "width": 212, "height": 192,
      "data": {"name": "bl"},
      "resolve": {"axis": {"x": "independent", "y": "independent"}},
      "layer": [
        {"transform": [{"filter": "datum.s === 'Repeat'"}], "mark": {"type": "line", "color": "black", "strokeWidth": 0.8},
         "encoding": {
           "x": {"field": "E", "type": "quantitative", "scale": {"domain": [0, 6], "nice": false, "zero": false}, "axis": {"orient": "bottom", "values": [0,1,2,3,4,5,6], "tickSize": -5, "labelPadding": 12, "labelFontSize": 17, "labelExpr": "datum.value % 2 === 0 ? datum.label : ''", "title": "Electric Field ( KV/cm )", "titleX": 214, "titleY": 91, "titleBaseline": "alphabetic", "titleAlign": "center"}},
           "y": {"field": "I", "type": "quantitative", "scale": {"type": "log", "domain": [1e-9, 0.0001], "nice": false}, "axis": {"orient": "left", "values": [1e-9,1e-7,1e-5], "tickSize": -5, "labelPadding": 13, "labelExpr": "'10⁻' + ['⁰','¹','²','³','⁴','⁵','⁶','⁷','⁸','⁹'][round(-log(datum.value)/LN10)]", "title": null}}}},
        {"transform": [{"filter": "datum.s === 'First'"}], "mark": {"type": "line", "color": "black", "strokeWidth": 2},
         "encoding": {
           "x": {"field": "E", "type": "quantitative", "scale": {"domain": [0, 6], "nice": false, "zero": false}, "axis": {"orient": "top", "values": [0,1,2,3,4,5,6], "tickSize": -5, "labels": false, "title": null}},
           "y": {"field": "I", "type": "quantitative", "scale": {"type": "log", "domain": [1e-9, 0.0001], "nice": false}, "axis": {"orient": "right", "values": [1e-9,1e-7,1e-5], "tickSize": -5, "labels": false, "title": null}},
           "detail": {"field": "g"}}},
        {"transform": [{"filter": "datum.s === 'First' || datum.s === 'Repeat'"}], "mark": {"type": "point", "filled": true, "stroke": "black", "strokeWidth": 0.8},
         "encoding": {
           "x": {"field": "E", "type": "quantitative", "scale": {"domain": [0, 6], "nice": false, "zero": false}, "axis": {"orient": "bottom", "values": [0.2,0.4,0.6,0.8,1.2,1.4,1.6,1.8,2.2,2.4,2.6,2.8,3.2,3.4,3.6,3.8,4.2,4.4,4.6,4.8,5.2,5.4,5.6,5.8], "tickSize": -3, "labels": false, "title": null}},
           "y": {"field": "I", "type": "quantitative", "scale": {"type": "log", "domain": [1e-9, 0.0001], "nice": false}, "axis": {"orient": "left", "values": [1e-8,1e-6,1e-4], "tickSize": -3, "labels": false, "title": null}},
           "fill": {"field": "s", "type": "nominal", "scale": {"domain": ["First", "Repeat"], "range": ["black", "transparent"]}, "legend": null},
           "size": {"condition": {"test": "datum.s === 'First'", "value": 9}, "value": 50}}},
        {"transform": [{"filter": "datum.s === 'label'"}], "mark": {"type": "text", "align": "right", "baseline": "alphabetic", "fontSize": 20, "font": "Liberation Sans", "color": "black"},
         "encoding": {
           "x": {"field": "E", "type": "quantitative", "scale": {"domain": [0, 6], "nice": false, "zero": false}, "axis": {"orient": "top", "values": [0.2,0.4,0.6,0.8,1.2,1.4,1.6,1.8,2.2,2.4,2.6,2.8,3.2,3.4,3.6,3.8,4.2,4.4,4.6,4.8,5.2,5.4,5.6,5.8], "tickSize": -3, "labels": false, "title": null}},
           "y": {"field": "I", "type": "quantitative", "scale": {"type": "log", "domain": [1e-9, 0.0001], "nice": false}, "axis": {"orient": "right", "values": [1e-8,1e-6,1e-4], "tickSize": -3, "labels": false, "title": null}},
           "text": {"field": "t"}}},
        {"transform": [{"filter": "datum.s === 'arrow'"}], "mark": {"type": "rule", "color": "black", "strokeWidth": 0.9},
         "encoding": {
           "x": {"field": "E", "type": "quantitative", "scale": {"domain": [0, 6], "nice": false, "zero": false}, "axis": null},
           "y": {"field": "I", "type": "quantitative", "scale": {"type": "log", "domain": [1e-9, 0.0001], "nice": false}, "axis": null},
           "x2": {"field": "E2"}, "y2": {"field": "I2"}}},
        {"transform": [{"filter": "datum.s === 'arrow' && datum.dir === 'down'"}], "mark": {"type": "point", "shape": "triangle-up", "angle": 247, "filled": true, "color": "black", "size": 30},
         "encoding": {
           "x": {"field": "E2", "type": "quantitative", "scale": {"domain": [0, 6], "nice": false, "zero": false}, "axis": null},
           "y": {"field": "I2", "type": "quantitative", "scale": {"type": "log", "domain": [1e-9, 0.0001], "nice": false}, "axis": null}}},
        {"transform": [{"filter": "datum.s === 'arrow' && datum.dir === 'up'"}], "mark": {"type": "point", "shape": "triangle-up", "angle": 74, "filled": true, "color": "black", "size": 30},
         "encoding": {
           "x": {"field": "E2", "type": "quantitative", "scale": {"domain": [0, 6], "nice": false, "zero": false}, "axis": null},
           "y": {"field": "I2", "type": "quantitative", "scale": {"type": "log", "domain": [1e-9, 0.0001], "nice": false}, "axis": null}}}
      ]
    },
    {
      "width": 208, "height": 192,
      "data": {"name": "br"},
      "resolve": {"axis": {"x": "independent", "y": "independent"}},
      "layer": [
        {"transform": [{"filter": "datum.s === 'Repeat'"}], "mark": {"type": "line", "color": "black", "strokeWidth": 0.8},
         "encoding": {
           "x": {"field": "E", "type": "quantitative", "scale": {"domain": [0, 6], "nice": false, "zero": false}, "axis": {"orient": "bottom", "values": [0,1,2,3,4,5,6], "tickSize": -5, "labelPadding": 12, "labelFontSize": 17, "labelExpr": "datum.value % 2 === 0 ? datum.label : ''", "title": null}},
           "y": {"field": "I", "type": "quantitative", "scale": {"type": "log", "domain": [1e-9, 0.00001], "nice": false}, "axis": {"orient": "right", "values": [1e-9,1e-7,1e-5], "tickSize": -5, "labelPadding": 11, "labelExpr": "'10⁻' + ['⁰','¹','²','³','⁴','⁵','⁶','⁷','⁸','⁹'][round(-log(datum.value)/LN10)]", "title": null}}}},
        {"transform": [{"filter": "datum.s === 'First'"}], "mark": {"type": "line", "color": "black", "strokeWidth": 3},
         "encoding": {
           "x": {"field": "E", "type": "quantitative", "scale": {"domain": [0, 6], "nice": false, "zero": false}, "axis": {"orient": "top", "values": [0,1,2,3,4,5,6], "tickSize": -5, "labels": false, "title": null}},
           "y": {"field": "I", "type": "quantitative", "scale": {"type": "log", "domain": [1e-9, 0.00001], "nice": false}, "axis": {"orient": "left", "values": [1e-9,1e-7,1e-5], "tickSize": -5, "labels": false, "title": null}},
           "detail": {"field": "g"}}},
        {"transform": [{"filter": "datum.s === 'First' || datum.s === 'Repeat'"}], "mark": {"type": "point", "filled": true, "stroke": "black", "strokeWidth": 1},
         "encoding": {
           "x": {"field": "E", "type": "quantitative", "scale": {"domain": [0, 6], "nice": false, "zero": false}, "axis": {"orient": "bottom", "values": [0.2,0.4,0.6,0.8,1.2,1.4,1.6,1.8,2.2,2.4,2.6,2.8,3.2,3.4,3.6,3.8,4.2,4.4,4.6,4.8,5.2,5.4,5.6,5.8], "tickSize": -3, "labels": false, "title": null}},
           "y": {"field": "I", "type": "quantitative", "scale": {"type": "log", "domain": [1e-9, 0.00001], "nice": false}, "axis": {"orient": "right", "values": [1e-8,1e-6], "tickSize": -3, "labels": false, "title": null}},
           "fill": {"field": "s", "type": "nominal", "scale": {"domain": ["First", "Repeat"], "range": ["black", "transparent"]}, "legend": null},
           "size": {"condition": {"test": "datum.s === 'First'", "value": 14}, "value": 40}}},
        {"transform": [{"filter": "datum.s === 'label'"}], "mark": {"type": "text", "align": "right", "baseline": "alphabetic", "fontSize": 20, "font": "Liberation Sans", "color": "black"},
         "encoding": {
           "x": {"field": "E", "type": "quantitative", "scale": {"domain": [0, 6], "nice": false, "zero": false}, "axis": {"orient": "top", "values": [0.2,0.4,0.6,0.8,1.2,1.4,1.6,1.8,2.2,2.4,2.6,2.8,3.2,3.4,3.6,3.8,4.2,4.4,4.6,4.8,5.2,5.4,5.6,5.8], "tickSize": -3, "labels": false, "title": null}},
           "y": {"field": "I", "type": "quantitative", "scale": {"type": "log", "domain": [1e-9, 0.00001], "nice": false}, "axis": {"orient": "left", "values": [1e-8,1e-6], "tickSize": -3, "labels": false, "title": null}},
           "text": {"field": "t"}}}
      ]
    }
  ],
  "columns": 2,
  "spacing": {"row": 19, "column": 24},
  "bounds": "flush",
  "resolve": {"scale": {"fill": "independent", "x": "independent", "y": "independent"}}
}
